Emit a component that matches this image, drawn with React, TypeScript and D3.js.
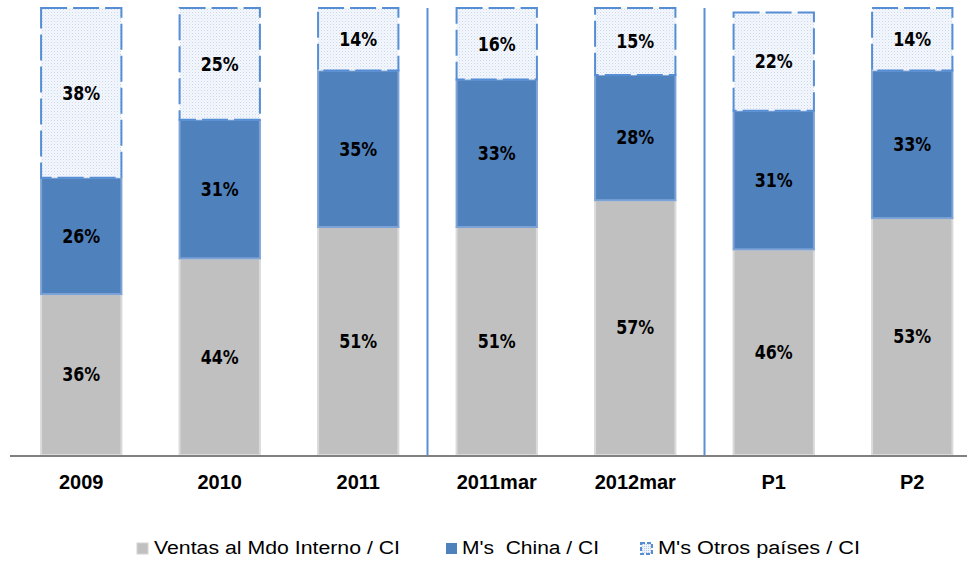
import React from 'react';
import * as d3 from 'd3';

// periods on the x axis
const categories = ['2009', '2010', '2011', '2011mar', '2012mar', 'P1', 'P2'];
// shares (%) per series
const ventasInterno = [36, 44, 51, 51, 57, 46, 53];
const chinaImports = [26, 31, 35, 33, 28, 31, 33];
const otrosImports = [38, 25, 14, 16, 15, 22, 14];
// vertical dividers go after these categories
const dividersAfter = ['2011', '2012mar'];
const legendLabels = ['Ventas al Mdo Interno / CI', "M's  China / CI", "M's Otros países / CI"];

const W = 967;
const H = 562;

export default function App() {
  const x = d3.scaleBand().domain(categories).range([12, 981.5]).paddingInner(0.42).paddingOuter(0.21);
  const y = d3.scaleLinear().domain([0, 100]).range([455, 8]);

  const rows = categories.map((c, i) => ({
    cat: c,
    ventas: ventasInterno[i],
    china: chinaImports[i],
    otros: otrosImports[i],
  }));
  const stack = d3.stack<any>().keys(['ventas', 'china', 'otros'])(rows);

  const styles: any = {
    ventas: { fill: '#c0c0c0', stroke: '#dadada', dash: null },
    china: { fill: '#4f81bd', stroke: '#7ea3d6', dash: null },
    otros: { fill: 'url(#dots)', stroke: '#558ed5', dash: '26 6' },
  };

  const step = x.step();

  return (
    <svg width={W} height={H} style={{ position: 'absolute', left: 0, top: 0, background: '#fff' }}>
      <defs>
        <pattern id="dots" width="3" height="3" patternUnits="userSpaceOnUse">
          <rect width="3" height="3" fill="#f4f7fc" />
          <rect x="0" y="0" width="1" height="1" fill="#c9d7ee" />
          <rect x="1.5" y="1.5" width="1" height="1" fill="#dce5f4" />
        </pattern>
        <pattern id="dotsLegend" width="2" height="2" patternUnits="userSpaceOnUse">
          <rect width="2" height="2" fill="#eef3fb" />
          <rect width="1" height="1" fill="#b9cde9" />
        </pattern>
      </defs>

      {stack.map((layer) =>
        layer.map((d, i) => {
          const st = styles[layer.key];
          const bx = x(categories[i]) as number;
          const y0 = y(d[1]);
          const y1 = y(d[0]);
          return (
            <g key={layer.key + i}>
              <rect
                x={bx}
                y={y0}
                width={x.bandwidth()}
                height={y1 - y0}
                fill={st.fill}
                stroke={st.stroke}
                strokeWidth={2}
                strokeDasharray={st.dash || undefined}
              />
              <text
                x={bx + x.bandwidth() / 2}
                y={(y0 + y1) / 2}
                dy="0.36em"
                textAnchor="middle"
                fontFamily="'DejaVu Sans Condensed', 'DejaVu Sans', sans-serif"
                fontWeight="bold"
                fontSize={19}
                textLength={38}
                lengthAdjust="spacingAndGlyphs"
                fill="#000"
              >
                {(d[1] - d[0]) + '%'}
              </text>
            </g>
          );
        })
      )}

      {dividersAfter.map((c) => {
        const dx = (x(c) as number) + x.bandwidth() + (step - x.bandwidth()) / 2;
        return <line key={c} x1={dx} x2={dx} y1={y(100)} y2={y(0)} stroke="#5b8fd6" strokeWidth={2} />;
      })}

      <line x1={10} x2={W} y1={y(0) + 1} y2={y(0) + 1} stroke="#808080" strokeWidth={2} />

      {categories.map((c) => (
        <text
          key={c}
          x={(x(c) as number) + x.bandwidth() / 2}
          y={489}
          textAnchor="middle"
          fontFamily="'Liberation Sans', Arial, sans-serif"
          fontWeight="bold"
          fontSize={20}
          fill="#000"
        >
          {c}
        </text>
      ))}

      {/* legend */}
      <g fontFamily="'Liberation Sans', Arial, sans-serif" fontSize={18} fill="#000">
        <rect x={137} y={543} width={11} height={11} fill="#c0c0c0" stroke="#d4d4d4" />
        <text x={154} y={554} textLength={246} lengthAdjust="spacingAndGlyphs">{legendLabels[0]}</text>
        <rect x={446} y={543} width={11} height={11} fill="#4f81bd" />
        <text x={462} y={554} textLength={137} lengthAdjust="spacingAndGlyphs" style={{ whiteSpace: 'pre' }}>{legendLabels[1]}</text>
        <rect x={641} y={543} width={11} height={11} fill="url(#dotsLegend)" stroke="#558ed5" strokeWidth={2} strokeDasharray="4 2" />
        <text x={658} y={554} textLength={202} lengthAdjust="spacingAndGlyphs">{legendLabels[2]}</text>
      </g>
    </svg>
  );
}
